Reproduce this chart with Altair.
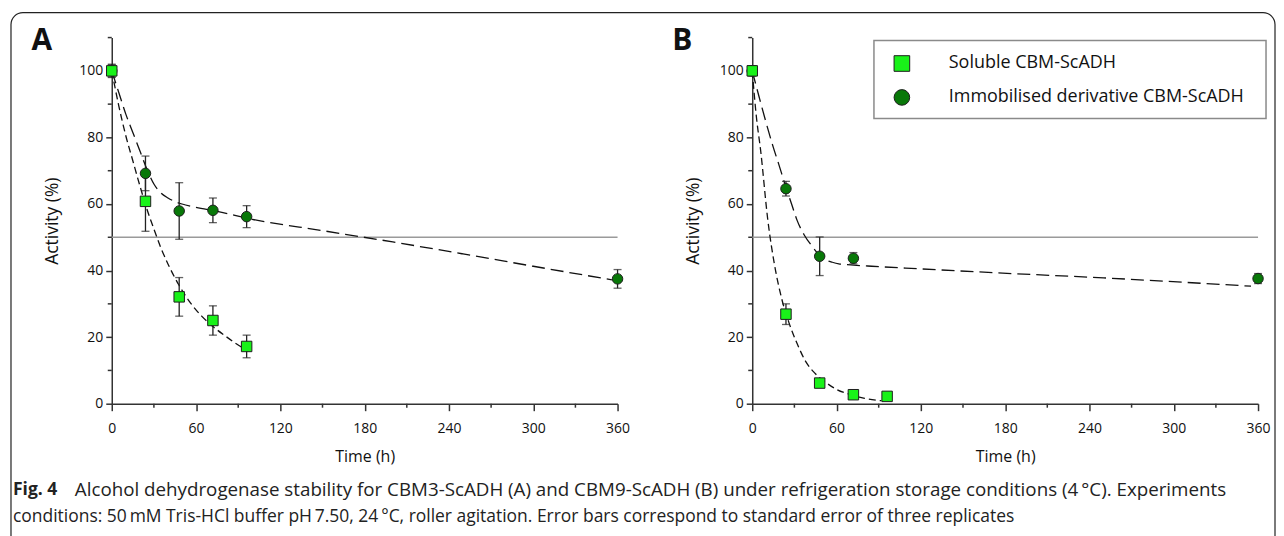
import altair as alt
import pandas as pd

# ---------------- data ----------------
series = ["Soluble CBM-ScADH", "Immobilised derivative CBM-ScADH"]
marker_shapes = ["square", "circle"]
marker_colors = ["#19f219", "#087808"]
fit_dashes = [[7, 4], [13, 6]]

x_major = [0, 60, 120, 180, 240, 300, 360]
x_minor = [30, 90, 150, 210, 270, 330]
y_major = [0, 20, 40, 60, 80, 100]
y_minor = [10, 30, 50, 70, 90, 110]
x_domain = [0, 360]
y_domain = [0, 110]
half_activity = [50]
half_span = [0, 360]

# Panel A  (CBM3-ScADH)
a_sol_t = [0, 24, 48, 72, 96]
a_sol_v = [100, 60.8, 32.1, 25.0, 17.2]
a_sol_e = [1.8, 9.0, 5.8, 4.4, 3.4]
a_imm_t = [0, 24, 48, 72, 96, 360]
a_imm_v = [100, 69.2, 57.9, 58.1, 56.2, 37.5]
a_imm_e = [2.0, 5.2, 8.5, 3.7, 3.3, 2.8]
a_sol_fit_t = [0, 5, 10, 15, 20, 25, 30, 35, 40, 48, 56, 64, 72, 80, 88, 95]
a_sol_fit_v = [100, 89.5, 80.5, 73, 65.5, 58.5, 52.5, 46.8, 42, 35.5, 30.3, 26.3, 23.2, 20.6, 18.2, 16.3]
a_imm_fit_t = [0, 5, 10, 15, 20, 25, 30, 35, 40, 50, 60, 75, 100, 150, 200, 250, 300, 356]
a_imm_fit_v = [100, 93.5, 87, 81.5, 76, 70.5, 66, 63.3, 61.8, 60, 59, 57.8, 55.4, 52, 48.6, 45, 41.3, 37.2]

# Panel B  (CBM9-ScADH)
b_sol_t = [0, 24, 48, 72, 96]
b_sol_v = [100, 26.9, 6.2, 2.7, 2.2]
b_sol_e = [1.5, 3.1, 0.5, 0.5, 0.5]
b_imm_t = [0, 24, 48, 72, 360]
b_imm_v = [100, 64.6, 44.3, 43.7, 37.6]
b_imm_e = [1.5, 2.2, 5.8, 1.7, 1.5]
b_sol_fit_t = [0, 3, 6, 11, 16.6, 21, 26, 32, 38, 45, 52, 60, 71, 80, 92]
b_sol_fit_v = [100, 86, 76, 55.5, 40, 31.5, 24.5, 18, 12.7, 9, 6.5, 4.3, 2.6, 1.6, 0.9]
b_imm_fit_t = [0, 5, 9.5, 15, 18.9, 24, 28, 32, 37, 42.6, 47, 52, 57, 61.6, 70, 85, 120, 175, 250, 355]
b_imm_fit_v = [100, 92, 85, 77, 71.9, 65, 60, 55, 50.7, 47.3, 45, 43.3, 42.5, 42, 41.7, 41.3, 40.5, 39.3, 37.8, 35.3]

panel_letters = ["A", "B"]
x_title = "Time (h)"
y_title = "Activity (%)"
caption_bold = ["Fig. 4"]
caption_line1 = ["Alcohol dehydrogenase stability for CBM3-ScADH (A) and CBM9-ScADH (B) under refrigeration storage conditions (4\u2009\u00b0C). Experiments"]
caption_line2 = ["conditions: 50\u2009mM Tris-HCl buffer pH\u20097.50, 24\u2009\u00b0C, roller agitation. Error bars correspond to standard error of three replicates"]

# ---------------- layout constants ----------------
W, H = 507, 367
FONT = "Open Sans"
INK = "#222222"

xs = alt.Scale(domain=x_domain, nice=False, zero=False)
ys = alt.Scale(domain=y_domain, nice=False, zero=False)


def X():
    return alt.X("time:Q", scale=xs, axis=alt.Axis(
        values=x_major, title=x_title, tickSize=7, labelPadding=11, titlePadding=13,
        grid=False, labelOverlap=False, labelFlush=False, labelBound=False))


def Y():
    return alt.Y("value:Q", scale=ys, axis=alt.Axis(
        values=y_major, title=y_title, tickSize=6, labelPadding=3, titlePadding=17,
        titleFontSize=17.5, grid=False, labelOverlap=False, labelFlush=False))


def points_frame(sol_t, sol_v, sol_e, imm_t, imm_v, imm_e):
    rows = []
    for t, v, e in zip(imm_t, imm_v, imm_e):
        rows.append({"series": series[1], "time": t, "value": v, "lo": v - e, "hi": v + e})
    for t, v, e in zip(sol_t, sol_v, sol_e):
        rows.append({"series": series[0], "time": t, "value": v, "lo": v - e, "hi": v + e})
    return pd.DataFrame(rows)


def fit_frame(st, sv, it, iv):
    rows = [{"series": series[0], "time": t, "value": v} for t, v in zip(st, sv)]
    rows += [{"series": series[1], "time": t, "value": v} for t, v in zip(it, iv)]
    return pd.DataFrame(rows)


shape_scale = alt.Scale(domain=series, range=marker_shapes)
color_scale = alt.Scale(domain=series, range=marker_colors)


def panel(letter, pts, fits):
    ref = alt.Chart(pd.DataFrame({"time": [half_span[0]], "time2": [half_span[1]], "value": half_activity})).mark_rule(
        color="#9a9a9a", strokeWidth=1.5
    ).encode(x=X(), x2="time2:Q", y=Y())

    xminor = alt.Chart(pd.DataFrame({"time": x_minor})).mark_rule(color="#333333", strokeWidth=1.5).encode(
        x=X(), y=alt.value(H), y2=alt.value(H + 4)
    )
    yminor = alt.Chart(pd.DataFrame({"value": y_minor})).mark_rule(color="#333333", strokeWidth=1.5).encode(
        y=Y(), x=alt.value(0), x2=alt.value(-4)
    )

    curves = alt.Chart(fits).mark_line(color="#111111", strokeWidth=1.3, interpolate="monotone").encode(
        x=X(), y=Y(),
        strokeDash=alt.StrokeDash("series:N", scale=alt.Scale(domain=series, range=fit_dashes), legend=None),
        detail="series:N",
    )

    bars = alt.Chart(pts).transform_calculate(value="datum.lo", value2="datum.hi").mark_rule(
        color=INK, strokeWidth=1.3
    ).encode(x=X(), y=Y(), y2="value2:Q")

    caps = alt.Chart(pts).transform_fold(["lo", "hi"], as_=["end", "value"]).mark_tick(
        orient="horizontal", size=8, thickness=1.3, color=INK
    ).encode(x=X(), y=Y())

    marks = alt.Chart(pts).mark_point(filled=True, opacity=1, size=110, stroke="#1e1e1e", strokeWidth=1).encode(
        x=X(), y=Y(),
        shape=alt.Shape("series:N", scale=shape_scale, legend=None),
        color=alt.Color("series:N", scale=color_scale, legend=None),
    )

    tag = alt.Chart(pd.DataFrame({"t": [letter]})).mark_text(
        font=FONT, fontSize=30, fontWeight="bold", align="center", baseline="middle", color="#111111"
    ).encode(text="t:N", x=alt.value(-70), y=alt.value(3))

    return [ref, xminor, yminor, curves, bars, caps, marks, tag]


def legend_layers():
    box = alt.Chart(pd.DataFrame({"f": [0]})).mark_rect(
        fill="white", stroke="#8a8a8a", strokeWidth=1.5
    ).encode(x=alt.value(122), x2=alt.value(515), y=alt.value(3), y2=alt.value(81))
    out = [box]
    for i, name in enumerate(series):
        yy = 26 + 34 * i
        d = pd.DataFrame({"series": [name]})
        out.append(
            alt.Chart(d).mark_point(filled=True, opacity=1, size=245, stroke="#1e1e1e", strokeWidth=1).encode(
                shape=alt.Shape("series:N", scale=shape_scale, legend=None),
                color=alt.Color("series:N", scale=color_scale, legend=None),
                x=alt.value(150), y=alt.value(yy),
            )
        )
        out.append(
            alt.Chart(d).mark_text(
                font=FONT, fontSize=18, align="left", baseline="middle", color="#111111"
            ).encode(text="series:N", x=alt.value(197), y=alt.value(yy))
        )
    return out


pts_a = points_frame(a_sol_t, a_sol_v, a_sol_e, a_imm_t, a_imm_v, a_imm_e)
fit_a = fit_frame(a_sol_fit_t, a_sol_fit_v, a_imm_fit_t, a_imm_fit_v)
pts_b = points_frame(b_sol_t, b_sol_v, b_sol_e, b_imm_t, b_imm_v, b_imm_e)
fit_b = fit_frame(b_sol_fit_t, b_sol_fit_v, b_imm_fit_t, b_imm_fit_v)

# figure frame and caption (decoration, placed relative to panel A)
frame = alt.Chart(pd.DataFrame({"f": [0]})).mark_rect(
    fill="white", fillOpacity=0, stroke="#222222", strokeWidth=1.2, cornerRadius=12
).encode(x=alt.value(-101), x2=alt.value(1166), y=alt.value(-25), y2=alt.value(512))

cap0 = alt.Chart(pd.DataFrame({"t": caption_bold})).mark_text(
    font=FONT, fontSize=17.5, fontWeight="bold", align="left", baseline="middle", color=INK
).encode(text="t:N", x=alt.value(-99), y=alt.value(454))
cap1 = alt.Chart(pd.DataFrame({"t": caption_line1})).mark_text(
    font=FONT, fontSize=18.8, align="left", baseline="middle", color=INK
).encode(text="t:N", x=alt.value(-37), y=alt.value(454))
cap2 = alt.Chart(pd.DataFrame({"t": caption_line2})).mark_text(
    font=FONT, fontSize=17.5, align="left", baseline="middle", color=INK
).encode(text="t:N", x=alt.value(-99), y=alt.value(481))

panel_a = alt.layer(*panel(panel_letters[0], pts_a, fit_a), frame, cap0, cap1, cap2).properties(width=W, height=H)
panel_b = alt.layer(*panel(panel_letters[1], pts_b, fit_b), *legend_layers()).properties(width=W, height=H)

chart = alt.hconcat(panel_a, panel_b, spacing=135, bounds="flush").resolve_scale(
    color="independent", shape="independent", strokeDash="independent"
).properties(
    padding={"left": 2, "top": 3, "right": 0, "bottom": 0}
).configure_view(stroke=None).configure_axis(
    domainColor="#333333", domainWidth=1.5, tickColor="#333333", tickWidth=1.5,
    labelFont=FONT, labelFontSize=14, labelColor="#111111",
    titleFont=FONT, titleFontSize=16, titleFontWeight="normal", titleColor="#111111",
)

chart.save("out.html", embed_options={"renderer": "svg", "actions": False})
